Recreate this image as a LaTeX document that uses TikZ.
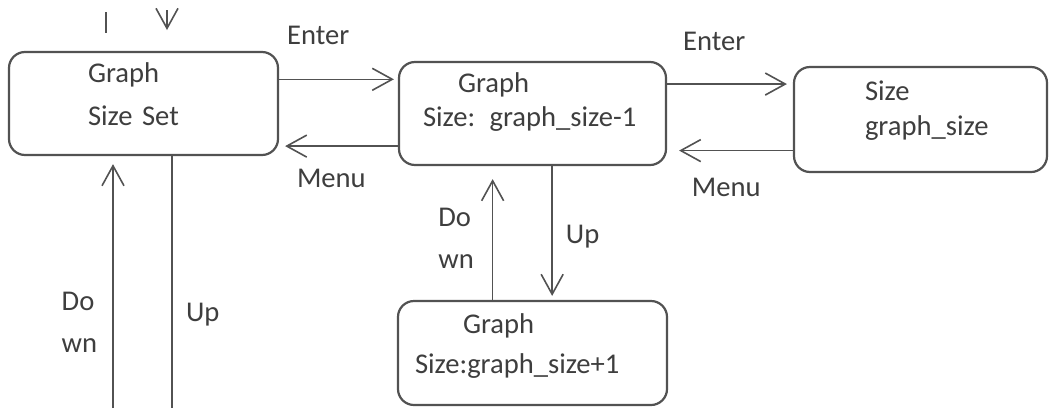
\documentclass[tikz,border=0pt]{standalone}
\usepackage{fontspec}
\setmainfont{Carlito}
\usepackage{tikz}
\usetikzlibrary{positioning,arrows.meta,calc}
\definecolor{inkgray}{RGB}{62,62,62}
\definecolor{linegray}{RGB}{82,82,82}
\tikzset{
  state/.style={draw=linegray,line width=1.1pt,rounded corners=8pt,inner xsep=0pt,
               inner ysep=0pt,align=left,text=inkgray,text height=10pt,text depth=31.5pt},
  flow/.style={-{Straight Barb[length=10pt,width=11pt]},line width=0.8pt,linegray},
  wire/.style={line width=0.8pt,linegray},
  lbl/.style={inner sep=0pt,text=inkgray,align=left,
              font=\fontsize{14.3}{21}\selectfont},
}

\begin{document}
\begin{tikzpicture}[x=0.5pt,y=-0.5pt]
  \useasboundingbox (0,0) rectangle (1049,408);
  \node[state,minimum width=134.5pt,minimum height=51.5pt,text width=55.5pt,
        font=\fontsize{14.3}{21.5}\selectfont] (gset) at (143.5,103.5)
        {Graph\\Size Set};
  \node[state,minimum width=133.5pt,minimum height=51.5pt,text width=109.5pt,
        font=\fontsize{14.3}{17}\selectfont] (gdec) at (532.5,113.5)
        {\hspace*{17.5pt}Graph\\\mbox{Size: graph\_size-1}};
  \node[state,minimum width=126.5pt,minimum height=52.5pt,text width=55.5pt,
        text depth=29.5pt,font=\fontsize{14.3}{17.5}\selectfont] (gsize) at (920.5,119.5)
        {Size\\\mbox{graph\_size}};
  \node[state,minimum width=134.5pt,minimum height=52pt,text width=117.5pt,
        text depth=30pt,font=\fontsize{14.3}{20}\selectfont] (ginc) at (532.5,353)
        {\hspace*{24pt}Graph\\\mbox{Size:graph\_size+1}};
  % Enter / Menu along the top row
  \draw[flow,shorten >=2pt] ($(gset.north east)!.27!(gset.south east)$) coordinate (e1)
        -- node[lbl,above=17pt,pos=.33] (enter1) {Enter} (e1 -| gdec.west);
  \draw[flow,shorten >=3pt] ($(gdec.north west)!.81!(gdec.south west)$) coordinate (m1)
        -- node[lbl,below=11pt,pos=.56] (menu1) {Menu} (m1 -| gset.east);
  \draw[flow,shorten >=3pt] ($(gdec.north east)!.22!(gdec.south east)$) coordinate (e2)
        -- node[lbl,above=16.5pt,pos=.375] (enter2) {Enter} (e2 -| gsize.west);
  \draw[flow,shorten >=6pt] ($(gsize.north west)!.79!(gsize.south west)$) coordinate (m2)
        -- node[lbl,below=13.5pt,pos=.53] (menu2) {Menu} (m2 -| gdec.east);
  % Up / Down between the middle boxes
  \draw[flow,shorten >=2pt] ($(gdec.south west)!.573!(gdec.south east)$) coordinate (u1)
        -- node[lbl,right=6.5pt,pos=.53] (up1) {Up} (u1 |- ginc.north);
  \draw[flow,shorten >=6.5pt] ($(ginc.north west)!.353!(ginc.north east)$) coordinate (d1)
        -- node[lbl,left=9pt,pos=.46] (down1) {Do\\wn} (d1 |- gdec.south);
  % lines running off the page under and over the first box
  \coordinate (dnfoot) at (113,408);
  \coordinate (upfoot) at (172,408);
  \draw[flow,shorten >=4pt] (dnfoot)
        -- node[lbl,left=7.5pt,pos=.34] (down2) {Do\\wn} (dnfoot |- gset.south);
  \draw[wire] ($(gset.south west)!.606!(gset.south east)$) coordinate (u2)
        -- node[lbl,right=6.5pt,pos=.63] (up2) {Up} (u2 |- upfoot);
  \coordinate (stuba) at (106,12);
  \coordinate (stubb) at (167,10);
  \draw[wire] (stuba) -- ++(0,21) coordinate (stuba2);
  \draw[flow] (stubb) -- ++(0,20) coordinate (stubb2);
\end{tikzpicture}
\end{document}
